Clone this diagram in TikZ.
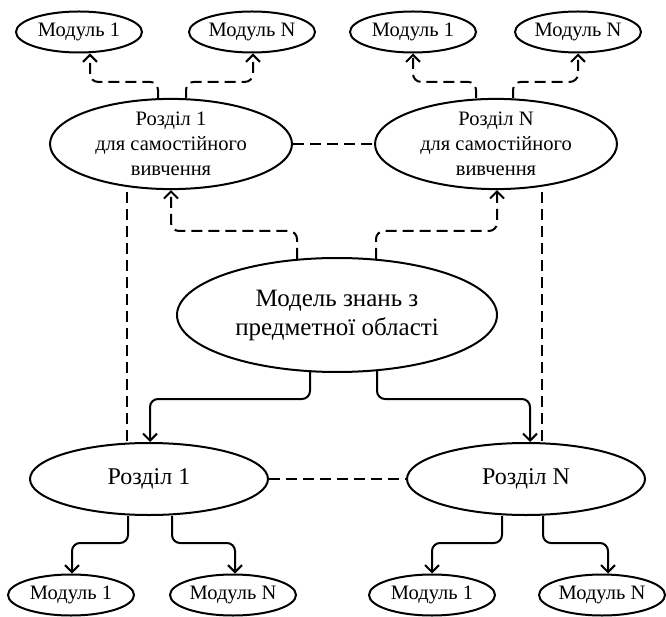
\documentclass[tikz,border=0pt]{standalone}
\usepackage{fontspec}
\setmainfont{Liberation Serif}
\usetikzlibrary{shapes.geometric,arrows.meta}
\tikzset{
  ell/.style={ellipse,draw,line width=2pt,inner sep=0pt,align=center},
  modbox/.style={ell,minimum width=126pt,minimum height=41pt,font=\fontsize{20.5}{22}\selectfont},
  selfbox/.style={ell,minimum width=242pt,minimum height=82pt,font=\fontsize{20.5}{25}\selectfont},
  razbox/.style={ell,minimum width=238pt,minimum height=72pt,font=\fontsize{24}{28}\selectfont},
  mainbox/.style={ell,minimum width=320pt,minimum height=114pt,font=\fontsize{25}{29}\selectfont},
  tipx/.style={-{Straight Barb[length=7pt,width=14pt,line width=2pt]}},
  darr/.style={line width=2pt,dash pattern=on 11pt off 6pt,rounded corners=8pt,tipx},
  sarr/.style={line width=2pt,rounded corners=8pt,tipx},
  dline/.style={line width=2pt,dash pattern=on 11pt off 6pt},
}
\begin{document}
\begin{tikzpicture}[x=1pt,y=-1pt]
\useasboundingbox (0,0) rectangle (666,617);
% top modules
\node[modbox] (tl1) at (79,32) {Модуль 1};
\node[modbox] (tlN) at (252,32) {Модуль N};
\node[modbox] (tr1) at (413,32) {Модуль 1};
\node[modbox] (trN) at (578,32) {Модуль N};
% self study sections
\node[selfbox] (s1) at (171,144) {Розділ 1\\для самостійного\\вивчення};
\node[selfbox] (sN) at (496,144) {Розділ N\\для самостійного\\вивчення};
% main
\node[mainbox] (m) at (337,315) {Модель знань з\\предметної області};
% sections
\node[razbox] (r1) at (149,479) {Розділ 1};
\node[razbox] (rN) at (526,479) {Розділ N};
% bottom modules
\node[modbox] (bl1) at (71,595) {Модуль 1};
\node[modbox] (blN) at (233,595) {Модуль N};
\node[modbox] (br1) at (432,595) {Модуль 1};
\node[modbox] (brN) at (602,595) {Модуль N};

% self -> modules (dashed)
\draw[darr] ([xshift=-13pt]s1.north) -- ++(0,-16) -| ([xshift=11pt]tl1.south);
\draw[darr] ([xshift=15pt]s1.north) -- ++(0,-16) -| ([xshift=1pt]tlN.south);
\draw[darr] ([xshift=-20pt]sN.north) -- ++(0,-16) -| (tr1.south);
\draw[darr] ([xshift=17pt]sN.north) -- ++(0,-16) -| (trN.south);
% self horizontal
\draw[dline] (s1.east) -- (sN.west);
% main -> self (dashed)
\draw[darr] ([xshift=-40pt,yshift=-2pt]m.north) -- ++(0,-28) -| (s1.south);
\draw[darr] ([xshift=39pt,yshift=-2pt]m.north) -- ++(0,-28) -| ([xshift=1pt]sN.south);
% main -> sections
\draw[sarr] ([xshift=-27pt,yshift=2pt]m.south) -- ++(0,28) -| ([xshift=1pt]r1.north);
\draw[sarr] ([xshift=40pt,yshift=2pt]m.south) -- ++(0,28) -| ([xshift=4pt]rN.north);
% vertical dashed
\draw[dline] ([xshift=-44pt,yshift=-2pt]s1.south) -- ([xshift=-22pt,yshift=-2pt]r1.north);
\draw[dline] ([xshift=46pt,yshift=-2pt]sN.south) -- ([xshift=16pt,yshift=-2pt]rN.north);
% sections horizontal
\draw[dline] (r1.east) -- (rN.west);
% sections -> modules
\draw[sarr] ([xshift=-21pt]r1.south) -- ++(0,27) -| ([xshift=1pt]bl1.north);
\draw[sarr] ([xshift=23pt]r1.south) -- ++(0,27) -| ([xshift=2pt]blN.north);
\draw[sarr] ([xshift=-24pt]rN.south) -- ++(0,27) -| (br1.north);
\draw[sarr] ([xshift=17pt]rN.south) -- ++(0,27) -| ([xshift=6pt]brN.north);
\end{tikzpicture}
\end{document}
